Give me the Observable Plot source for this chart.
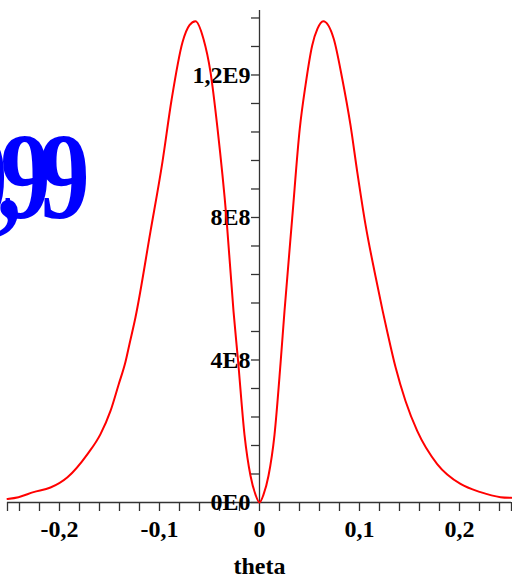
<!DOCTYPE html>
<html>
<head>
<meta charset="utf-8">
<script src="https://cdn.jsdelivr.net/npm/d3@7"></script>
<script src="https://cdn.jsdelivr.net/npm/@observablehq/plot@0.6"></script>
<style>
  html, body { margin: 0; padding: 0; background: #fff; }
  #chart svg { display: block; }
</style>
</head>
<body>
<div id="chart"></div>
<script>
// ---- data ----
const theta = [-0.252,-0.241,-0.226,-0.209,-0.192,-0.172,-0.159,-0.149,-0.141,-0.134,-0.130,-0.124,-0.109,-0.097,-0.088,-0.077,-0.070,-0.064,-0.056,-0.049,-0.042,-0.033,-0.026,-0.0215,-0.015,-0.009,-0.004,0,
  0.004,0.009,0.015,0.021,0.025,0.0327,0.0403,0.046,0.0527,0.058,0.0637,0.0743,0.0827,0.091,0.0977,0.106,0.116,0.123,0.1277,0.136,0.146,0.1577,0.1777,0.201,0.221,0.241,0.252];
const intensity = [1.0e7,1.5e7,2.9e7,4.2e7,7.1e7,1.36e8,1.92e8,2.57e8,3.3e8,3.95e8,4.45e8,5.2e8,7.61e8,9.57e8,1.129e9,1.292e9,1.34e9,1.351e9,1.301e9,1.208e9,1.05e9,7.97e8,5.37e8,4.0e8,1.9e8,7.5e7,2.2e7,0,
  2.2e7,7.5e7,1.9e8,3.89e8,5.37e8,7.98e8,1.05e9,1.171e9,1.283e9,1.33e9,1.351e9,1.301e9,1.19e9,1.059e9,9.29e8,7.8e8,6.35e8,5.4e8,4.8e8,3.8e8,2.85e8,2.01e8,1.08e8,5.2e7,2.9e7,1.5e7,1.3e7];

const xDomain = [-0.252, 0.252];
const yDomain = [0, 1.381e9];
const xTickValues = [-0.2, -0.1, 0, 0.1, 0.2];
const xTickLabels = ["-0,2", "-0,1", "0", "0,1", "0,2"];
const yTickValues = [0, 4e8, 8e8, 1.2e9];
const yTickLabels = ["0E0", "4E8", "8E8", "1,2E9"];
const xMinorStep = 0.02;
const yMinorStep = 8e7;
const xLabel = "theta";
const titleText = "0,99";

// ---- derived tables ----
const curve = theta.map((t, i) => ({theta: t, value: intensity[i]}));
const xMinor = [xDomain[0], ...d3.range(-0.24, 0.2401, xMinorStep), xDomain[1]];
const yMinor = d3.range(0, 1.37e9, yMinorStep);
const xLab = xTickValues.map((v, i) => ({v, label: xTickLabels[i]}));
const yLab = yTickValues.map((v, i) => ({v, label: yTickLabels[i]}));

const font = "'Liberation Serif', 'Times New Roman', serif";
const axisColor = "#333";

const chart = Plot.plot({
  width: 512,
  height: 577,
  marginLeft: 7,
  marginRight: 1,
  marginTop: 10,
  marginBottom: 75,
  style: {background: "#fff", fontFamily: font},
  x: {domain: xDomain, axis: null},
  y: {domain: yDomain, axis: null},
  marks: [
    // title (large, partially off-canvas)
    Plot.text([titleText], {
      text: d => d, frameAnchor: "top-left", textAnchor: "start", lineAnchor: "middle",
      dx: -50, dy: 168, fill: "#0000ff", fontSize: 123, fontWeight: "bold", fontFamily: font
    }),
    // axes lines
    Plot.ruleY([0], {stroke: axisColor, strokeWidth: 1.3}),
    Plot.ruleX([0], {stroke: axisColor, strokeWidth: 1.3}),
    // x ticks (downward)
    Plot.ruleX(xMinor, {x: d => d, y1: 0, y2: 0, insetBottom: -9, stroke: axisColor, strokeWidth: 1.3}),
    // y ticks (leftward)
    Plot.ruleY(yMinor, {y: d => d, x1: 0, x2: 0, insetLeft: -8, stroke: axisColor, strokeWidth: 1.3}),
    // y tick labels
    Plot.text(yLab, {
      x: 0, y: "v", text: "label", textAnchor: "end", dx: -9,
      fontSize: 24, fontWeight: "bold", fontFamily: font, fill: "#000"
    }),
    // x tick labels
    Plot.text(xLab, {
      x: "v", text: "label", frameAnchor: "bottom", lineAnchor: "middle", dy: 27,
      fontSize: 24, fontWeight: "bold", fontFamily: font, fill: "#000"
    }),
    // x axis label
    Plot.text([xLabel], {
      text: d => d, frameAnchor: "bottom", lineAnchor: "middle", dy: 64,
      fontSize: 24, fontWeight: "bold", fontFamily: font, fill: "#000"
    }),
    // curve
    Plot.line(curve, {x: "theta", y: "value", stroke: "#ff0000", strokeWidth: 2, curve: "monotone-x"})
  ]
});

// condense the big title like the reference: squeeze glyphs and pull the "99" together
d3.select(chart).selectAll("text").filter(function() { return this.textContent === titleText; })
  .each(function() {
    const t = this.getAttribute("transform") || "";
    this.setAttribute("transform", (t + " scale(0.82,1)").trim());
    this.style.letterSpacing = "-14px";
    const head = titleText.slice(0, 2), tail = titleText.slice(2);
    this.textContent = "";
    const sel = d3.select(this);
    sel.append("tspan").text(head);
    sel.append("tspan").attr("dx", -12).text(tail);
  });

document.getElementById("chart").appendChild(chart);
</script>
</body>
</html>
